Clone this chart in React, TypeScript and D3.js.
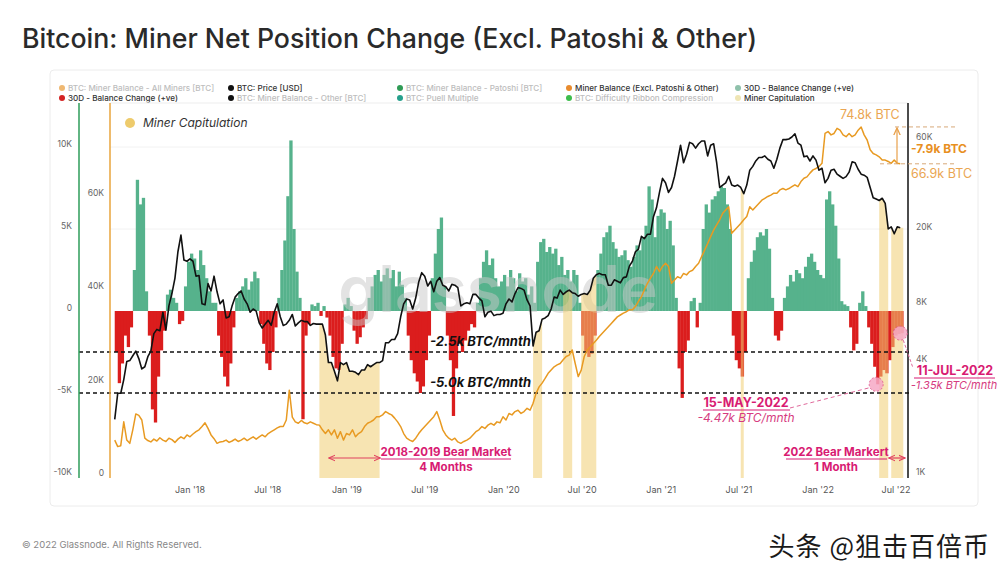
import React from 'react';
import * as d3 from 'd3';

// weekly samples, one per Monday, 10-Jul-2017 .. 11-Jul-2022
const priceUsd2017 = [2000, 2750, 2750, 3250, 4050, 4100, 4350, 4600, 4200, 3700, 3800, 4300, 4600, 5700, 6000, 5900, 7400, 5950, 8000, 9300, 11200, 15500, 19000, 14000, 13800];
const priceUsd2018 = [14200, 13800, 11500, 11600, 8200, 8100, 10500, 9600, 11500, 9500, 8200, 8600, 6900, 7000, 8000, 8900, 9300, 9600, 8700, 8200, 7400, 7700, 7500, 6500, 6100, 6400, 6700, 6300, 7400, 8200, 7000, 6300, 6400, 6700, 7200, 6250, 6500, 6700, 6600, 6600, 6300, 6450, 6400, 6400, 6400, 5600, 4000, 4000, 3600, 3200, 4000, 3900, 4000];
const priceUsd2019 = [3600, 3600, 3550, 3450, 3650, 3650, 3900, 3800, 3900, 4000, 4000, 4100, 5100, 5100, 5300, 5300, 5700, 7000, 8200, 8700, 8600, 7700, 8800, 10700, 12000, 11500, 10200, 10800, 9500, 10800, 11300, 10300, 10100, 9600, 10400, 10300, 10000, 8000, 8200, 8300, 8200, 9200, 9200, 8800, 8500, 7000, 7400, 7500, 7100, 7200, 7200, 7300];
const priceUsd2020 = [8200, 8700, 8400, 9300, 10000, 9900, 9700, 8600, 8000, 4900, 5800, 5900, 6800, 6900, 7100, 7700, 8900, 8800, 9700, 9200, 9500, 9700, 9400, 9300, 9000, 9200, 9300, 9200, 9700, 11200, 11700, 11900, 11700, 11700, 10300, 10300, 11000, 10800, 10600, 11300, 11400, 13000, 13800, 15500, 16000, 18700, 18200, 19200, 19200, 23800, 26500, 32000];
const priceUsd2021 = [38000, 36000, 32000, 34000, 39000, 47000, 57000, 46000, 51000, 59000, 58000, 55000, 58000, 60000, 60000, 50000, 57000, 58000, 46000, 34000, 35000, 36000, 39000, 35000, 34500, 35000, 34000, 31500, 35000, 42000, 44000, 47000, 49000, 49000, 50000, 48000, 47000, 43000, 48000, 55000, 61000, 61000, 61500, 63000, 65500, 58500, 57000, 49500, 50000, 47000, 50000, 47500];
const priceUsd2022 = [42000, 43000, 36000, 38000, 42000, 42500, 40000, 39000, 38000, 38800, 41000, 46500, 46000, 42500, 40000, 39500, 38500, 34000, 30000, 29500, 29000, 29800, 28000, 20500, 21000, 19300, 21000, 20800];

// miner balance excl. patoshi & other, thousand BTC
const balance2017 = [7.7, 6.3, 6.5, 11.6, 7.7, 7.0, 9.9, 13.3, 13.0, 12.0, 8.1, 7.6, 7.3, 7.9, 7.5, 8.2, 7.7, 7.4, 8.1, 7.8, 7.2, 7.9, 8.4, 8.0, 8.8];
const balance2018 = [8.4, 9.0, 9.5, 9.9, 10.6, 11.4, 10.2, 8.8, 8.0, 7.0, 7.3, 7.4, 7.7, 7.2, 7.5, 7.9, 7.4, 7.7, 8.1, 7.6, 8.0, 8.4, 7.9, 8.4, 8.8, 8.4, 9.1, 9.5, 9.9, 10.3, 10.6, 10.6, 12.0, 18.4, 12.6, 11.6, 11.3, 11.9, 11.4, 11.2, 11.6, 11.3, 11.0, 10.9, 9.9, 9.1, 9.9, 8.8, 9.9, 8.1, 9.5, 7.7, 9.1];
const balance2019 = [8.8, 9.9, 8.4, 9.1, 9.5, 10.6, 11.3, 11.6, 12.0, 12.7, 12.7, 13.1, 13.8, 13.4, 13.1, 12.4, 11.6, 10.6, 9.1, 8.1, 7.7, 7.4, 8.1, 9.1, 9.9, 10.6, 11.3, 12.0, 12.7, 13.8, 12.0, 9.9, 8.8, 8.1, 7.7, 8.1, 7.3, 7.0, 7.4, 7.7, 8.1, 8.8, 9.5, 9.9, 10.6, 10.2, 10.9, 11.3, 10.9, 11.6, 11.4, 12.7];
const balance2020 = [12.0, 13.4, 13.1, 13.8, 14.1, 13.4, 13.8, 14.5, 14.1, 15.6, 17.7, 19.1, 19.9, 20.9, 22.0, 22.7, 23.4, 23.8, 24.1, 24.9, 25.6, 25.9, 27.0, 24.1, 21.3, 22.7, 25.6, 27.0, 27.7, 28.4, 29.1, 29.9, 30.6, 31.3, 32.0, 32.7, 33.4, 34.1, 34.5, 34.9, 35.2, 35.6, 35.6, 36.3, 37.4, 38.4, 39.9, 41.3, 42.4, 43.4, 44.9, 43.8];
const balance2021 = [44.9, 45.6, 44.9, 41.3, 42.0, 42.7, 42.4, 43.4, 43.1, 43.8, 44.1, 44.9, 45.6, 47.0, 48.4, 49.8, 51.3, 52.7, 53.8, 54.9, 56.3, 57.0, 57.7, 52.0, 52.7, 53.4, 54.1, 54.9, 55.6, 57.7, 57.0, 57.7, 58.4, 59.1, 59.5, 59.9, 60.2, 60.6, 60.6, 61.3, 61.6, 61.3, 61.6, 62.0, 62.4, 62.0, 63.1, 63.8, 64.1, 64.9, 65.6, 65.9];
const balance2022 = [66.3, 67.0, 73.4, 73.8, 73.1, 73.4, 74.5, 74.1, 73.1, 72.7, 73.4, 72.7, 73.1, 74.1, 74.8, 73.1, 72.0, 69.9, 69.1, 68.8, 68.4, 67.7, 67.7, 67.4, 67.0, 67.7, 67.0, 66.9];

// 30D net position change, thousand BTC / month
const net2017 = [-2.5, -4.4, -3.2, -1.5, -2.2, -1.0, 2.5, 8.0, 6.5, 6.9, 1.2, -1.5, -6.0, -6.8, -4.0, -2.4, -1.2, 1.0, 1.3, 0.8, 0.5, -0.8, -0.6, 1.5, 3.0];
const net2018 = [3.5, 3.2, 2.5, 3.7, 2.8, 2.0, 1.2, 0.5, 0.5, -1.5, -2.8, -4.0, -4.6, -3.2, -1.0, 0.8, 1.2, 1.5, 2.0, 1.3, 1.8, 2.4, 2.0, -0.8, -2.0, -3.2, -3.6, -2.5, -1.0, 0.8, 2.5, 4.3, 7.0, 10.4, 5.0, 2.4, 0.8, -6.6, -1.5, -0.8, 0.4, 0.3, 0.5, -0.3, 0.3, -0.4, -1.5, -2.8, -3.5, -3.6, -2.0, 0.4, 0.8];
const net2019 = [0.3, -1.2, -2.0, -1.6, -1.0, -0.5, 0.8, 1.5, 2.2, 2.5, 1.8, 2.2, 2.6, 2.0, 2.5, 1.5, 2.4, 1.6, 0.8, -1.5, -3.0, -3.8, -4.3, -5.0, -4.6, -3.0, -1.5, 2.0, 3.5, 5.0, 5.7, 1.5, -1.5, -3.0, -6.4, -3.5, -2.0, -2.5, -1.8, -1.2, -0.8, -1.0, 0.5, 2.0, 3.0, 3.7, 2.8, 3.2, 2.0, 1.5, 1.8, 2.2];
const net2020 = [1.5, 2.5, 2.0, 1.2, 2.3, 1.8, 2.0, 1.0, 1.5, 0.5, 3.0, 4.2, 4.4, 3.6, 3.9, 3.5, 3.8, 2.8, 3.3, 2.2, 2.5, 1.8, 2.5, 2.2, 0.5, -1.5, -2.5, -2.8, -2.6, -1.5, 2.5, 3.5, 4.5, 4.8, 5.2, 4.2, 3.8, 3.3, 3.4, 3.7, 3.1, 2.7, 3.3, 4.0, 3.7, 4.5, 5.2, 7.6, 6.8, 4.5, 5.8, 6.2];
const net2021 = [6.0, 5.0, 5.5, 4.0, 0.8, -3.5, -5.3, -2.5, -1.8, 0.6, 0.8, -1.0, 0.5, 5.0, 6.5, 6.0, 6.8, 7.0, 7.3, 7.6, 7.5, 6.5, 5.0, -1.5, -3.0, -3.5, -4.0, -2.5, 2.0, 3.0, 3.7, 4.5, 4.8, 4.6, 5.0, 3.8, 0.8, -1.5, -1.8, -1.2, 0.8, 1.5, 2.2, 1.8, 2.5, 2.3, 2.0, 2.7, 3.3, 3.5, 3.0, 2.5];
const net2022 = [2.2, 2.0, 6.8, 7.3, 6.5, 5.2, 3.2, 0.6, 0.4, 0.3, -1.0, -2.4, -2.0, 0.5, 1.2, 0.3, -1.0, -2.0, -3.4, -4.47, -4.0, -3.6, -3.8, -3.0, -2.2, -1.5, -1.4, -1.35];

// miner capitulation periods [start, end)
const capitulation = [
  ['2018-10-29', '2019-03-18'],
  ['2020-03-09', '2020-03-30'],
  ['2020-05-18', '2020-06-08'],
  ['2020-06-29', '2020-08-03'],
  ['2021-07-05', '2021-07-12'],
  ['2022-05-23', '2022-06-13'],
  ['2022-06-20', '2022-07-18'],
];

const netTicks = [10, 5, 0, -5, -10];
const balanceTicks = [60, 40, 20, 0];
const priceTicks = [60000, 20000, 8000, 4000, 1000];

const legendItems = [
  { label: 'BTC: Miner Balance - All Miners [BTC]', color: '#efb872', on: false },
  { label: 'BTC: Price [USD]', color: '#111111', on: true },
  { label: 'BTC: Miner Balance - Patoshi [BTC]', color: '#2f9b55', on: false },
  { label: 'Miner Balance (Excl. Patoshi & Other)', color: '#e88b2e', on: true },
  { label: '30D - Balance Change (+ve)', color: '#8fc1ab', on: true },
  { label: '30D - Balance Change (+ve)', color: '#d42323', on: true },
  { label: 'BTC: Miner Balance - Other [BTC]', color: '#111111', on: false },
  { label: 'BTC: Puell Multiple', color: '#26a08c', on: false },
  { label: 'BTC: Difficulty Ribbon Compression', color: '#3dbd4c', on: false },
  { label: 'Miner Capitulation', color: '#efe5b4', on: true },
];

const price = [...priceUsd2017, ...priceUsd2018, ...priceUsd2019, ...priceUsd2020, ...priceUsd2021, ...priceUsd2022];
const balance = [...balance2017, ...balance2018, ...balance2019, ...balance2020, ...balance2021, ...balance2022];
const netChange = [...net2017, ...net2018, ...net2019, ...net2020, ...net2021, ...net2022];
const weeks = d3.timeMonday.range(new Date(2017, 6, 10), new Date(2022, 6, 12));

const FONT = "Inter, 'DejaVu Sans', sans-serif";
const GREEN = '#56b28c';
const RED = '#db1d1d';
const ORANGE = '#e89a22';
const PINK = '#d81b72';
const TOP = 103;
const BOTTOM = 478;

const parse = d3.timeParse('%Y-%m-%d');

const x = d3.scaleTime().domain([new Date(2017, 5, 29), new Date(2022, 6, 29)]).range([110, 908]);
const yNet = d3.scaleLinear().domain([-10, 10]).range([475, 147]);
const yBal = d3.scaleLinear().domain([0, 60]).range([476, 196]);
const yPrice = d3.scaleLog().domain([1000, 60000]).range([476, 141]);

const kFmt = (v: number) => (v === 0 ? '0' : `${v}K`);

export default function App() {
  const n = Math.min(weeks.length, price.length, balance.length, netChange.length);
  const idx = d3.range(n);
  const nextWeek = (i: number) => d3.timeDay.offset(weeks[i], 7);

  const priceLine = d3.line<number>().x((i) => x(weeks[i])).y((i) => yPrice(price[i]));
  const balanceLine = d3.line<number>().x((i) => x(weeks[i])).y((i) => yBal(balance[i]));
  const capArea = d3.area<[number, number]>().x((d) => d[0]).y0(BOTTOM).y1((d) => d[1]);

  const capPaths = capitulation.map(([s, e]) => {
    const start = parse(s) as Date;
    const end = parse(e) as Date;
    const inside = idx.filter((i) => weeks[i] >= start && weeks[i] < end);
    const pts: [number, number][] = inside.map((i) => [x(weeks[i]), yPrice(price[i])]);
    const j = idx.find((i) => weeks[i] >= end);
    if (j !== undefined) pts.push([x(weeks[j]), yPrice(price[j])]);
    else if (inside.length) pts.push([x(end), yPrice(price[inside[inside.length - 1]])]);
    return capArea(pts);
  });

  const xTicks = d3.timeMonth.every(6)!.range(new Date(2018, 0, 1), new Date(2022, 7, 1));
  const tFmt = d3.timeFormat("%b '%y");

  const iMay = idx.find((i) => +weeks[i] === +new Date(2022, 4, 16)) ?? n - 9;
  const iJul = n - 1;
  const mayPt = [x(weeks[iMay]), yNet(netChange[iMay])];
  const julPt = [x(weeks[iJul]), yNet(netChange[iJul])];

  const bal748 = yBal(74.8);
  const bal669 = yBal(66.9);

  const bear1 = [x(new Date(2018, 10, 20)), x(new Date(2019, 2, 20))];
  const bear2 = [x(new Date(2022, 5, 14)), x(new Date(2022, 6, 22))];

  return (
    <svg width={1000} height={575} style={{ position: 'absolute', left: 0, top: 0, background: '#fff' }} fontFamily={FONT}>
      <defs>
        <marker id="arrP" viewBox="0 0 10 10" refX="9" refY="5" markerWidth="6" markerHeight="6" orient="auto-start-reverse">
          <path d="M0,1 L9,5 L0,9" fill="none" stroke="#e0405e" strokeWidth="1.5" />
        </marker>
        <marker id="arrO" viewBox="0 0 10 10" refX="9" refY="5" markerWidth="7" markerHeight="7" orient="auto">
          <path d="M0,1 L9,5 L0,9" fill="none" stroke="#e8a04a" strokeWidth="1.5" />
        </marker>
      </defs>

      <text x={22} y={48} fontSize={26.7} fontWeight={500} fill="#2a2a2a" fontFamily="Inter, Roboto, sans-serif">
        Bitcoin: Miner Net Position Change (Excl. Patoshi &amp; Other)
      </text>

      <rect x={50} y={70} width={928} height={436} rx={4} fill="none" stroke="#ececec" />

      {/* legend */}
      {legendItems.map((it, k) => {
        const cx = [62, 231, 400, 569, 738][k % 5];
        const cy = k < 5 ? 88 : 98;
        return (
          <g key={k}>
            <circle cx={cx} cy={cy} r={3} fill={it.color} />
            <text x={cx + 6} y={cy} dy="0.35em" fontSize={8.1} fontWeight={500} fill={it.on ? '#333' : '#bdbdbd'}>
              {it.label}
            </text>
          </g>
        );
      })}

      <line x1={110} x2={908} y1={TOP} y2={TOP} stroke="#ededed" />
      {[10, 5].map((v) => (
        <line key={v} x1={110} x2={908} y1={yNet(v)} y2={yNet(v)} stroke="#f2f2f2" />
      ))}

      {/* net position change bars */}
      {idx.map((i) => {
        const v = netChange[i];
        const x0 = x(weeks[i]);
        const w = x(nextWeek(i)) - x0 + 0.3;
        const y0 = yNet(0);
        const y1 = yNet(v);
        return <rect key={i} x={x0} y={Math.min(y0, y1)} width={w} height={Math.abs(y1 - y0)} fill={v >= 0 ? GREEN : RED} />;
      })}

      <text x={498} y={312} textAnchor="middle" fontSize={64} fontWeight={600} fill="#c8c8c8" opacity={0.5}>
        glassnode
      </text>

      {/* miner capitulation (area under price) */}
      {capPaths.map((d, k) => (
        <path key={k} d={d ?? ''} fill="#f0cd72" opacity={0.55} />
      ))}

      {/* reference lines */}
      {[-2.5, -5].map((v) => (
        <line key={v} x1={79} x2={910} y1={yNet(v)} y2={yNet(v)} stroke="#111" strokeWidth={1.3} strokeDasharray="4,3" />
      ))}
      <text x={430} y={yNet(-2.5) - 6} fontSize={13} fontWeight={700} fontStyle="italic" fill="#111">-2.5k BTC/mnth</text>
      <text x={430} y={yNet(-5) - 6} fontSize={13} fontWeight={700} fontStyle="italic" fill="#111">-5.0k BTC/mnth</text>

      <path d={balanceLine(idx) ?? ''} fill="none" stroke={ORANGE} strokeWidth={1.5} strokeLinejoin="round" />
      <path d={priceLine(idx) ?? ''} fill="none" stroke="#111" strokeWidth={1.6} strokeLinejoin="round" />

      {/* axes */}
      <line x1={79} x2={79} y1={TOP} y2={BOTTOM} stroke="#2e9d5a" strokeWidth={1.5} />
      <line x1={110} x2={110} y1={TOP} y2={BOTTOM} stroke="#e9a53c" strokeWidth={1.5} />
      <line x1={908} x2={908} y1={TOP} y2={BOTTOM} stroke="#111" strokeWidth={1.5} />
      {netTicks.map((v) => (
        <text key={v} x={72} y={yNet(v) - 3} dy="0.35em" textAnchor="end" fontSize={8.5} fill="#666">{kFmt(v)}</text>
      ))}
      {balanceTicks.map((v) => (
        <text key={v} x={104} y={yBal(v) - 3} dy="0.35em" textAnchor="end" fontSize={8.5} fill="#666">{kFmt(v)}</text>
      ))}
      {priceTicks.map((v) => (
        <text key={v} x={916} y={yPrice(v) - 4} dy="0.35em" fontSize={8.5} fill="#666">{kFmt(v / 1000)}</text>
      ))}
      {xTicks.map((d) => (
        <text key={+d} x={x(d)} y={490} dy="0.35em" textAnchor="middle" fontSize={9} fill="#555">{tFmt(d)}</text>
      ))}

      {/* in-plot legend */}
      <circle cx={130} cy={123} r={5} fill="#eecb6c" />
      <text x={143} y={123} dy="0.35em" fontSize={12} fontStyle="italic" fill="#333">Miner Capitulation</text>

      {/* balance drawdown annotation */}
      <line x1={895} x2={955} y1={bal748} y2={bal748} stroke="#d8a878" strokeDasharray="4,3" />
      <line x1={880} x2={955} y1={bal669} y2={bal669} stroke="#d8a878" strokeDasharray="4,3" />
      <line x1={897} x2={897} y1={bal669} y2={bal748 + 1} stroke="#e8a04a" strokeWidth={1.2} markerEnd="url(#arrO)" />
      <text x={840} y={115} dy="0.35em" fontSize={12.5} fill="#eaa652">74.8k BTC</text>
      <text x={911} y={149} dy="0.35em" fontSize={12} fontWeight={700} fill="#e8901f">-7.9k BTC</text>
      <text x={911} y={174} dy="0.35em" fontSize={12.5} fill="#eaa652">66.9k BTC</text>

      {/* 15-May-2022 */}
      <line x1={790} y1={408} x2={mayPt[0] - 5} y2={mayPt[1] + 3} stroke="#e06a9c" strokeDasharray="4,3" />
      <circle cx={mayPt[0]} cy={mayPt[1]} r={7} fill="#f6a9c6" opacity={0.85} stroke="#e0508a" strokeDasharray="2,2" />
      <text x={746} y={403} dy="0.35em" textAnchor="middle" fontSize={12.5} fontWeight={700} fill={PINK}>15-MAY-2022</text>
      <line x1={703} x2={790} y1={410} y2={410} stroke={PINK} />
      <text x={746} y={418} dy="0.35em" textAnchor="middle" fontSize={12} fontStyle="italic" fill="#d63c80">-4.47k BTC/mnth</text>

      {/* 11-Jul-2022 */}
      <circle cx={julPt[0]} cy={julPt[1]} r={7} fill="#f6a9c6" opacity={0.85} stroke="#e0508a" strokeDasharray="2,2" />
      <line x1={julPt[0] + 3} y1={julPt[1] + 7} x2={913} y2={368} stroke="#e06a9c" strokeDasharray="3,2" />
      <text x={955} y={371} dy="0.35em" textAnchor="middle" fontSize={12.5} fontWeight={700} fill={PINK}>11-JUL-2022</text>
      <line x1={914} x2={995} y1={378} y2={378} stroke={PINK} />
      <text x={954} y={385} dy="0.35em" textAnchor="middle" fontSize={11} fontStyle="italic" fill="#d63c80">-1.35k BTC/mnth</text>

      {/* bear market spans */}
      <line x1={bear1[0]} x2={bear1[1]} y1={458} y2={458} stroke="#e0405e" strokeWidth={1.2} markerStart="url(#arrP)" markerEnd="url(#arrP)" />
      <text x={446} y={452} dy="0.35em" textAnchor="middle" fontSize={11.5} fontWeight={700} fill={PINK}>2018-2019 Bear Market</text>
      <line x1={381} x2={511} y1={459} y2={459} stroke={PINK} />
      <text x={446} y={467} dy="0.35em" textAnchor="middle" fontSize={11.5} fontWeight={700} fill={PINK}>4 Months</text>

      <line x1={bear2[0]} x2={bear2[1]} y1={458} y2={458} stroke="#e0405e" strokeWidth={1.2} markerStart="url(#arrP)" markerEnd="url(#arrP)" />
      <text x={836} y={452} dy="0.35em" textAnchor="middle" fontSize={11.5} fontWeight={700} fill={PINK}>2022 Bear Markert</text>
      <line x1={786} x2={887} y1={459} y2={459} stroke={PINK} />
      <text x={836} y={467} dy="0.35em" textAnchor="middle" fontSize={11.5} fontWeight={700} fill={PINK}>1 Month</text>

      {/* footer */}
      <text x={22} y={545} dy="0.35em" fontSize={9.5} fill="#888">© 2022 Glassnode. All Rights Reserved.</text>
      <text x={990} y={547} dy="0.35em" textAnchor="end" fontSize={26} letterSpacing={1} fill="#1a1a1a" stroke="#fff" strokeWidth={2} paintOrder="stroke" fontFamily="'Noto Sans CJK SC', sans-serif">
        头条 @狙击百倍币
      </text>
    </svg>
  );
}
